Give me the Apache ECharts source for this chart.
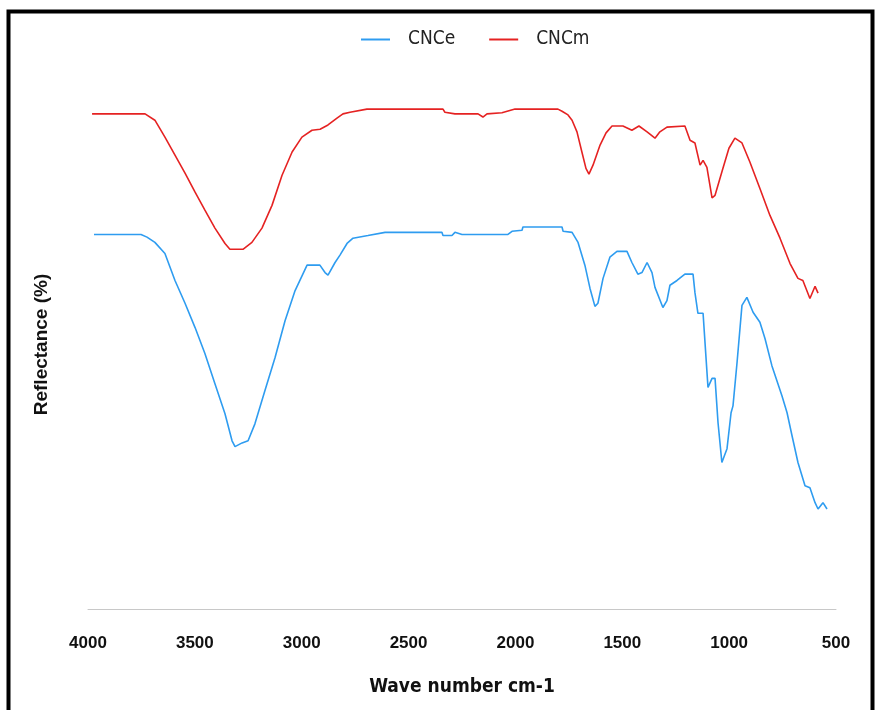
<!DOCTYPE html>
<html>
<head>
<meta charset="utf-8">
<script src="https://cdn.jsdelivr.net/npm/echarts@6/dist/echarts.min.js"></script>
<style>
html,body{margin:0;padding:0;background:#fff;}
#c{width:875px;height:710px;}
</style>
</head>
<body>
<div id="c"></div>
<script>
// Wavenumber ticks (cm-1)
const xTicks = [4000, 3500, 3000, 2500, 2000, 1500, 1000, 500];

// CNCm spectrum: wavenumber, reflectance (arbitrary % scale)
const cncmWave = [3981,3733,3687,3640,3593,3546,3499,3453,3406,3359,3336,3275,3233,3186,3139,3092,3045,2999,2952,2914,2877,2835,2807,2774,2695,2339,2330,2283,2175,2152,2133,2063,2002,1801,1782,1754,1735,1712,1689,1670,1656,1637,1604,1576,1548,1497,1455,1422,1384,1347,1324,1291,1207,1183,1160,1136,1122,1104,1080,1066,1029,1001,973,940,903,856,809,762,715,678,655,622,598,584];
const cncmVal  = [93.6,93.6,92.4,89.2,85.8,82.4,78.8,75.4,72.0,69.1,68.0,68.0,69.3,72.0,76.3,82.0,86.4,89.2,90.5,90.7,91.5,92.8,93.6,93.9,94.5,94.5,93.9,93.6,93.6,93.0,93.6,93.8,94.5,94.5,94.1,93.4,92.4,90.2,86.4,83.3,82.2,83.9,87.7,90.0,91.3,91.3,90.5,91.3,90.2,89.0,90.2,91.1,91.3,88.6,88.1,83.9,84.8,83.5,77.7,78.2,83.3,87.1,89.0,88.1,84.5,79.5,74.4,70.1,65.3,62.5,62.1,58.7,61.0,59.7];

// CNCe spectrum
const cnceWave = [3972,3752,3724,3687,3640,3593,3546,3499,3453,3406,3359,3326,3312,3279,3251,3219,3172,3125,3078,3031,2975,2915,2891,2877,2844,2821,2788,2760,2690,2610,2344,2339,2297,2283,2250,2035,2016,1969,1965,1782,1777,1735,1707,1675,1651,1628,1614,1590,1558,1525,1478,1455,1427,1408,1384,1361,1347,1310,1291,1277,1244,1207,1169,1160,1146,1122,1113,1099,1080,1066,1052,1034,1010,991,982,963,940,917,888,856,832,800,753,729,706,678,645,622,598,584,561,542];
const cnceVal  = [70.8,70.8,70.3,69.3,67.2,62.1,57.8,53.2,48.3,42.6,36.9,31.8,30.7,31.4,31.8,35.0,41.3,47.5,54.5,60.2,65.0,65.0,63.6,63.1,65.5,66.9,69.1,70.1,70.6,71.2,71.2,70.6,70.6,71.2,70.8,70.8,71.4,71.6,72.2,72.2,71.4,71.2,69.3,65.0,60.6,57.2,57.8,62.5,66.5,67.6,67.6,65.5,63.3,63.6,65.5,63.6,60.8,57.0,58.3,61.2,62.1,63.3,63.3,59.8,55.9,55.9,50.4,41.9,43.6,43.6,35.2,27.7,30.3,37.1,38.4,46.6,57.4,58.9,56.1,54.2,51.1,46.0,40.3,37.1,32.8,27.7,23.3,22.9,20.1,18.9,20.1,18.9];

const seriesNames = ['CNCe', 'CNCm'];

function pairs(w, v){ return w.map((x,i)=>[x, v[i]]); }

const condensed = '"DejaVu Sans Condensed", "Liberation Sans Narrow", sans-serif';

const chart = echarts.init(document.getElementById('c'), null, {renderer:'canvas'});
chart.setOption({
  backgroundColor:'#fff',
  animation:false,
  graphic:[{
    type:'rect', left:6, top:9, silent:true,
    shape:{width:864, height:720},
    style:{fill:'none', stroke:'#000', lineWidth:4}
  }],
  legend:{
    top:25, left:356,
    itemWidth:29, itemHeight:2, itemGap:34,
    icon:'rect',
    textStyle:{fontFamily:condensed, fontSize:19, color:'#222', padding:[0,0,0,13]},
    data:seriesNames
  },
  grid:{left:88, right:39, top:80, bottom:101, containLabel:false},
  xAxis:{
    type:'value', inverse:true, min:500, max:4000, interval:500,
    axisLine:{show:true, lineStyle:{color:'#c8c8c8', width:1}},
    axisTick:{show:false},
    splitLine:{show:false},
    axisLabel:{fontFamily:'Liberation Sans, Arial, sans-serif', fontWeight:'bold', fontSize:17, color:'#111', margin:26,
      formatter:function(v){ return xTicks.indexOf(v) >= 0 ? String(v) : ''; }},
    name:'Wave number cm-1', nameLocation:'middle', nameGap:69,
    nameTextStyle:{fontFamily:condensed, fontWeight:'bold', fontSize:19, color:'#111'}
  },
  yAxis:{
    type:'value', min:0, max:100,
    axisLine:{show:false}, axisTick:{show:false}, axisLabel:{show:false}, splitLine:{show:false},
    name:'Reflectance (%)', nameLocation:'middle', nameGap:37, nameRotate:90,
    nameTextStyle:{fontFamily:'Liberation Sans, Arial, sans-serif', fontWeight:'bold', fontSize:19, color:'#111'}
  },
  series:[
    {name:seriesNames[0], type:'line', data:pairs(cnceWave, cnceVal), showSymbol:false, symbol:'none',
     lineStyle:{color:'#2e9cf0', width:1.6}, itemStyle:{color:'#2e9cf0'}},
    {name:seriesNames[1], type:'line', data:pairs(cncmWave, cncmVal), showSymbol:false, symbol:'none',
     lineStyle:{color:'#e52222', width:1.6}, itemStyle:{color:'#e52222'}}
  ]
});
</script>
</body>
</html>
